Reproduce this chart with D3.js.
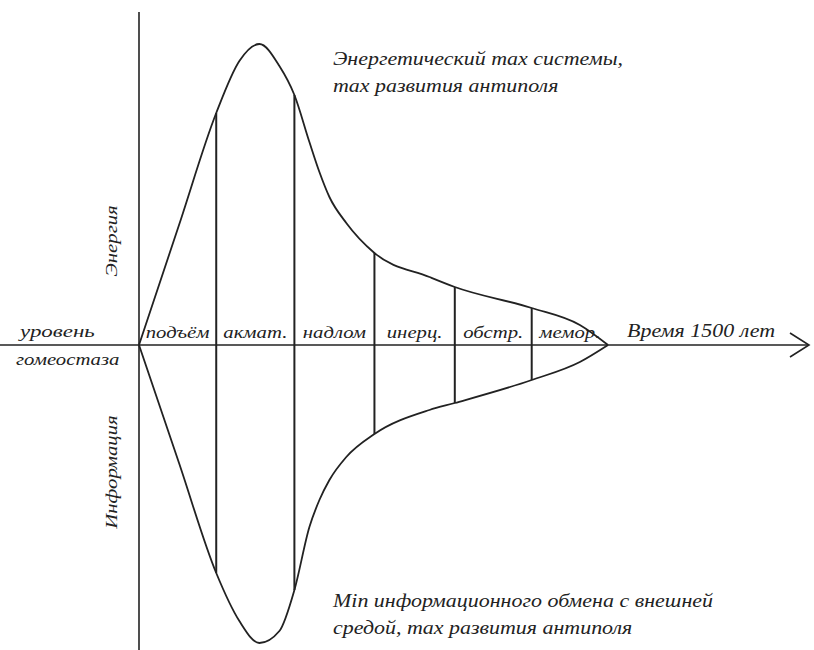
<!DOCTYPE html>
<html>
<head>
<meta charset="utf-8">
<script src="https://cdn.jsdelivr.net/npm/d3@7"></script>
<style>
  body { margin: 0; background: #fff; }
  text { font-family: "Liberation Serif", "DejaVu Serif", serif; font-style: italic; fill: #222; }
</style>
</head>
<body>
<script>
// years since the start of the cycle (axis "Время 1500 лет")
var years       = [0, 128, 247, 321, 385, 449, 497, 545, 577, 609, 663, 753, 929, 1010, 1256, 1410, 1500];
// energy above the homeostasis level (upper curve)
var energy      = [0, 120, 232, 284, 301, 279, 250, 203, 173, 148, 122, 92, 68, 58, 37, 20, 0];
// information below the homeostasis level (lower curve)
var information = [0, -118, -228, -276, -298, -286, -245, -182, -155, -135, -112, -89, -65, -58, -35, -17, 0];

// phase boundaries and phase names
var phaseEdges  = [0, 247, 497, 753, 1010, 1256, 1500];
var phaseNames  = ["подъём", "акмат.", "надлом", "инерц.", "обстр.", "мемор."];

var width = 814, height = 650;

var x = d3.scaleLinear().domain([0, 1500]).range([139, 608]);
var y = d3.scaleLinear().domain([-300, 300]).range([645, 45]);

var svg = d3.select("body").append("svg")
    .attr("width", width)
    .attr("height", height);

var ink = "#222";

// axes
svg.append("line")
    .attr("x1", 0).attr("x2", 808)
    .attr("y1", y(0)).attr("y2", y(0))
    .attr("stroke", ink).attr("stroke-width", 1.6);

svg.append("path")
    .attr("d", "M790," + (y(0) - 12) + "L809," + y(0) + "L790," + (y(0) + 12))
    .attr("fill", "none").attr("stroke", ink).attr("stroke-width", 1.6);

svg.append("line")
    .attr("x1", x(0)).attr("x2", x(0))
    .attr("y1", 12).attr("y2", height)
    .attr("stroke", ink).attr("stroke-width", 1.6);

// curves
var pts = years.map(function(t, i) { return {t: t, e: energy[i], inf: information[i]}; });

var upper = d3.line()
    .x(function(d) { return x(d.t); })
    .y(function(d) { return y(d.e); })
    .curve(d3.curveMonotoneX);

var lower = d3.line()
    .x(function(d) { return x(d.t); })
    .y(function(d) { return y(d.inf); })
    .curve(d3.curveMonotoneX);

svg.append("path").attr("d", upper(pts))
    .attr("fill", "none").attr("stroke", ink).attr("stroke-width", 1.8);
svg.append("path").attr("d", lower(pts))
    .attr("fill", "none").attr("stroke", ink).attr("stroke-width", 1.8);

// phase dividers, from curve to curve
var inner = phaseEdges.slice(1, -1).map(function(t) {
  var i = years.indexOf(t);
  return {t: t, e: energy[i], inf: information[i]};
});

svg.selectAll(".divider")
    .data(inner)
  .enter().append("line")
    .attr("class", "divider")
    .attr("x1", function(d) { return x(d.t); })
    .attr("x2", function(d) { return x(d.t); })
    .attr("y1", function(d) { return y(d.e); })
    .attr("y2", function(d) { return y(d.inf); })
    .attr("stroke", ink).attr("stroke-width", 2);

// helper for the stretched italic lettering
function label(px, py, str, size, anchor, rot, sx) {
  var tr = "translate(" + px + "," + py + ")" + (rot ? " rotate(" + rot + ")" : "") +
           " scale(" + (sx || 1.22) + ",1)";
  return svg.append("text")
      .attr("transform", tr)
      .attr("text-anchor", anchor || "start")
      .style("font-size", size + "px")
      .text(str);
}

// phase names, centred in each band
phaseNames.forEach(function(n, i) {
  label(x((phaseEdges[i] + phaseEdges[i + 1]) / 2), y(0) - 7, n, 17, "middle");
});

label(20, 337, "уровень", 17, "start", 0, 1.35);
label(16, 365, "гомеостаза", 17);
label(627, 337, "Время 1500 лет", 18);

label(117, 241, "Энергия", 17, "middle", -90);
label(117, 472, "Информация", 17, "middle", -90);

label(333, 65, "Энергетический max системы,", 18);
label(333, 92, "max развития антиполя", 18);
label(333, 607, "Min информационного обмена с внешней", 18);
label(333, 634, "средой, max развития антиполя", 18);
</script>
</body>
</html>
